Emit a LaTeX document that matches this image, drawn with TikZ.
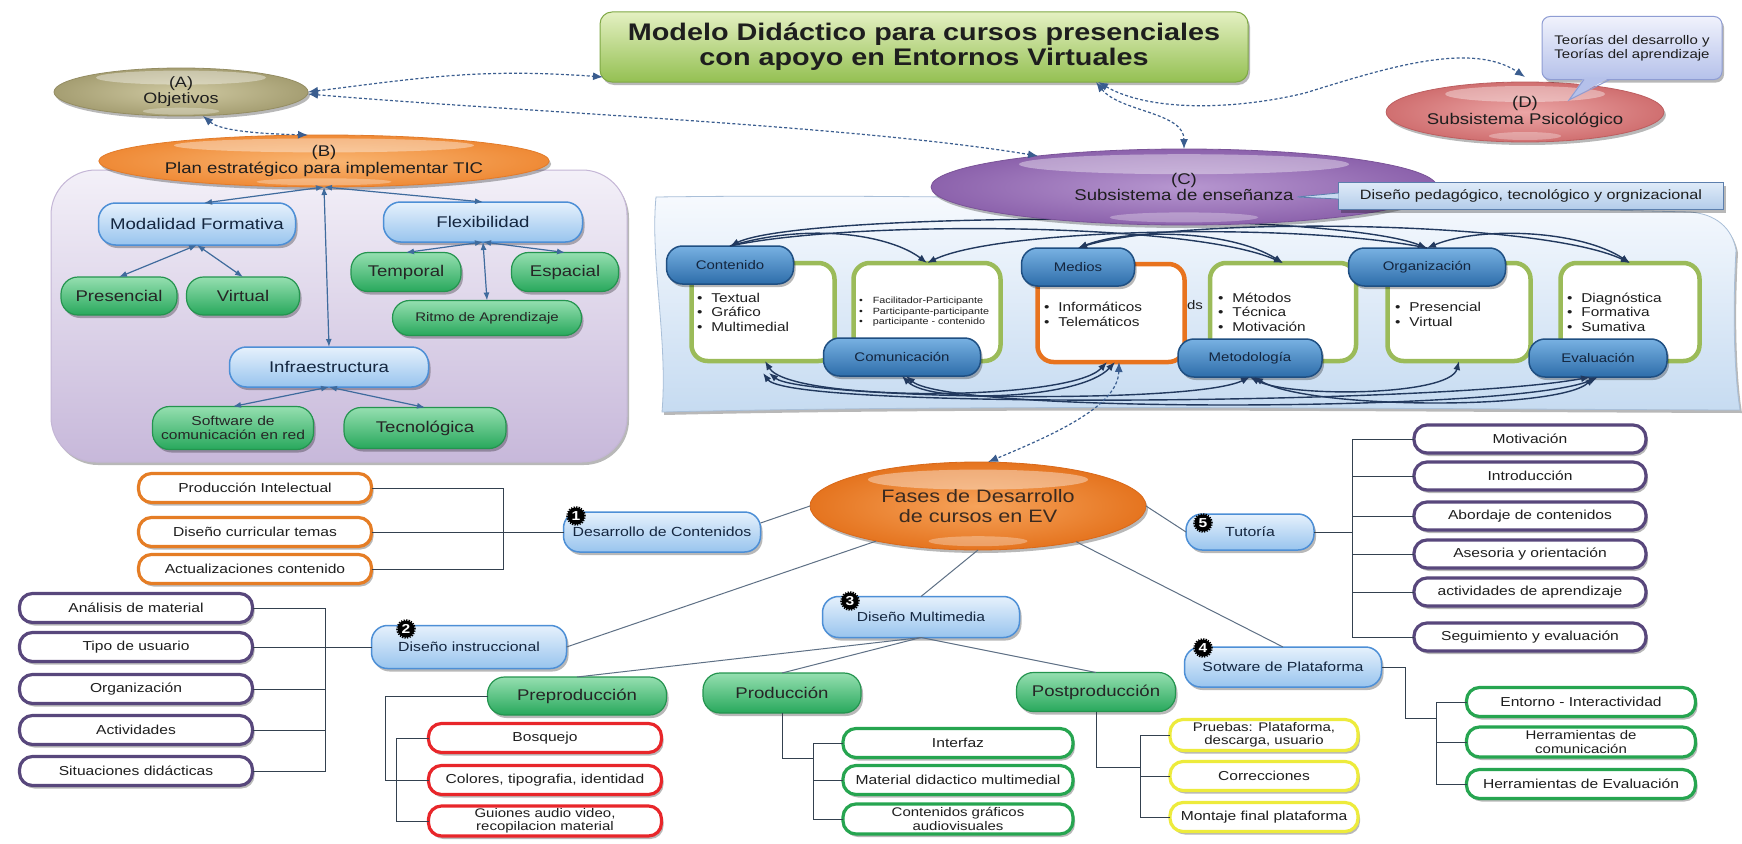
\documentclass[tikz,border=0pt]{standalone}
\usepackage{fontspec}
\setmainfont{Liberation Sans}[FakeStretch=1.2]
\usetikzlibrary{shapes.geometric,shapes.misc,arrows.meta,shadows,calc}

\definecolor{txt}{HTML}{1E1E1E}
\definecolor{navy}{HTML}{14263F}
\definecolor{dashc}{HTML}{3A5D8F}
\definecolor{arrB}{HTML}{3F6B9D}
\definecolor{arrC}{HTML}{22395E}
\definecolor{lineF}{HTML}{5E7085}
\definecolor{brkc}{HTML}{34414F}
\definecolor{pbTop}{HTML}{F3F0F8}
\definecolor{pbBot}{HTML}{C7B8DA}
\definecolor{pbDraw}{HTML}{C4B6D6}
\definecolor{bandTop}{HTML}{F7FAFE}
\definecolor{bandBot}{HTML}{C6DBF1}
\definecolor{bandDraw}{HTML}{A9BFD8}
\definecolor{cgreen}{HTML}{9BBB59}
\definecolor{corange}{HTML}{E8731E}
\definecolor{bp1}{HTML}{78B1E2}
\definecolor{bp2}{HTML}{2D6DAA}
\definecolor{bpd}{HTML}{1F4F82}
\definecolor{lb1}{HTML}{E6F1FC}
\definecolor{lb2}{HTML}{98C4EE}
\definecolor{lbd}{HTML}{4D8FD6}
\definecolor{g1}{HTML}{95DFB0}
\definecolor{g2}{HTML}{28A85C}
\definecolor{gd}{HTML}{24944F}
\definecolor{tTop}{HTML}{E4F0C2}
\definecolor{tBot}{HTML}{94C052}
\definecolor{tDraw}{HTML}{7FA845}
\definecolor{aIn}{HTML}{CFC9A2}
\definecolor{aOut}{HTML}{A59E72}
\definecolor{aDraw}{HTML}{948D63}
\definecolor{bIn}{HTML}{F9B673}
\definecolor{bOut}{HTML}{EF8A36}
\definecolor{bDraw}{HTML}{E27B2A}
\definecolor{cIn}{HTML}{B797D0}
\definecolor{cOut}{HTML}{8C62AC}
\definecolor{cDraw}{HTML}{7A5398}
\definecolor{dIn}{HTML}{EBA5A5}
\definecolor{dOut}{HTML}{D06F70}
\definecolor{dDraw}{HTML}{BC5E60}
\definecolor{fIn}{HTML}{F6A35A}
\definecolor{fOut}{HTML}{E5741F}
\definecolor{fDraw}{HTML}{D9691A}
\definecolor{fText}{HTML}{3A2A20}
\definecolor{thTop}{HTML}{F0F2FC}
\definecolor{thBot}{HTML}{B5C1EA}
\definecolor{thDraw}{HTML}{8F9DD3}
\definecolor{dbTop}{HTML}{DFEBF8}
\definecolor{dbBot}{HTML}{B3CCEA}
\definecolor{dbDraw}{HTML}{5C7FAD}
\definecolor{oOrange}{HTML}{E57D25}
\definecolor{oPurple}{HTML}{58477C}
\definecolor{oRed}{HTML}{E8262A}
\definecolor{oGreen}{HTML}{26A550}
\definecolor{oYellow}{HTML}{EDEB3C}

\newcommand\fsz[2]{\fontsize{#1}{#2}\selectfont}

\tikzset{
  dshadow/.style={drop shadow={shadow xshift=2pt, shadow yshift=-3pt, opacity=.28, fill=black}},
  gloss/.style 2 args={path picture={
    \fill[white,opacity=.38] ($(path picture bounding box.north)!.2!(path picture bounding box.south)$) ellipse [x radius=#1, y radius=#2];
    \fill[white,opacity=.3] ($(path picture bounding box.north)!.9!(path picture bounding box.south)$) ellipse [x radius=.45*#1, y radius=.5*#2];
  }},
  ellnode/.style n args={3}{ellipse, inner color=#1, outer color=#2, draw=#3, line width=.8pt, dshadow, align=center},
  lbpill/.style={rectangle, rounded corners=17pt, top color=lb1, bottom color=lb2, draw=lbd, line width=1.5pt, dshadow, text=navy},
  gpill/.style={rectangle, rounded corners=17pt, top color=g1, bottom color=g2, draw=gd, line width=1.2pt, dshadow, text=black!85},
  bpill/.style={rectangle, rounded corners=16pt, top color=bp1, bottom color=bp2, draw=bpd, line width=1.5pt, minimum height=38pt, font=\fsz{12.5}{14}, text=navy, dshadow},
  ppill/.style={rectangle, rounded corners=16pt, top color=lb1, bottom color=lb2, draw=lbd, line width=1.5pt, minimum height=40pt, font=\fsz{13.2}{15}, text=navy, dshadow},
  opill/.style={rectangle, rounded corners=13pt, fill=white, draw=#1, line width=3.2pt, minimum width=233pt, minimum height=29pt, font=\fsz{13}{14}, align=center, dshadow},
  cardn/.style={rectangle, rounded corners=16pt, fill=white, draw=#1, line width=4.5pt, minimum height=98pt},
  cardtxt/.style={anchor=west, align=left, font=\fsz{12.8}{14.5}},
  badge/.style={circle, fill=black, draw=black, line width=2.6pt, dash pattern=on 1.2pt off 1.2pt, minimum size=17pt, text=white, font=\fsz{13}{13}\bfseries},
  barrow/.style={draw=arrB, line width=1.2pt, {Latex[length=8pt,width=6pt]}-{Latex[length=8pt,width=6pt]}},
  barrone/.style={draw=arrC, line width=1.4pt, -{Latex[length=9pt,width=7pt]}},
  barrtwo/.style={draw=arrC, line width=1.4pt, {Latex[length=9pt,width=7pt]}-{Latex[length=9pt,width=7pt]}},
  dconn/.style={draw=dashc, line width=1.2pt, dash pattern=on 3pt off 2.2pt, {Latex[length=10pt,width=8pt]}-{Latex[length=10pt,width=8pt]}},
  flin/.style={draw=lineF, line width=1pt},
  brk/.style={draw=brkc, line width=1pt},
}

\begin{document}
\begin{tikzpicture}[x=1pt,y=-1pt, every node/.style={inner sep=0pt,outer sep=0pt,text=txt}]
\useasboundingbox (0,0) rectangle (1742,843);
\fill[white] (0,0) rectangle (1742,843);

% ---------- (B) panel ----------
\node[rectangle, rounded corners=45pt, top color=pbTop, bottom color=pbBot, draw=pbDraw, line width=1pt, dshadow, minimum width=576pt, minimum height=292pt] (panel) at (339,316) {};

% ---------- (C) band ----------
\path[top color=bandTop, bottom color=bandBot, draw=bandDraw, line width=.8pt, dshadow]
  (656,197) .. controls (950,193) and (1350,204) .. (1690,212)
  .. controls (1716,214) and (1732,228) .. (1736,250)
  .. controls (1732,320) and (1735,380) .. (1740,410)
  .. controls (1400,409) and (1000,404) .. (662,412)
  .. controls (668,340) and (650,260) .. (656,197) -- cycle;

\node[cardn=cgreen, minimum width=143pt] (cCont) at (763,312) {};
\node[cardn=cgreen, minimum width=147pt] (cComu) at (927,312) {};
\node[cardn=corange, minimum width=147pt] (cMed)  at (1111,313) {};
\node[cardn=cgreen, minimum width=146pt] (cMet)  at (1283,312) {};
\node[cardn=cgreen, minimum width=143pt] (cOrg)  at (1459,312) {};
\node[cardn=cgreen, minimum width=139pt] (cEva)  at (1630,312) {};

\node[cardtxt] (tCont) at (697,312) {\textbullet\hspace{9pt}Textual\\\textbullet\hspace{9pt}Gráfico\\\textbullet\hspace{9pt}Multimedial};
\node[cardtxt, font=\fsz{9}{10.5}] (tComu) at (859,312) {\textbullet\hspace{10pt}Facilitador-Participante\\\textbullet\hspace{10pt}Participante-participante\\\textbullet\hspace{10pt}participante - contenido};
\node[cardtxt, font=\fsz{12.8}{15}] (tMed) at (1044,314) {\textbullet\hspace{9pt}Informáticos\\\textbullet\hspace{9pt}Telemáticos};
\node[cardtxt] (tMet) at (1218,312) {\textbullet\hspace{9pt}Métodos\\\textbullet\hspace{9pt}Técnica\\\textbullet\hspace{9pt}Motivación};
\node[cardtxt, font=\fsz{12.8}{15}] (tOrg) at (1395,314) {\textbullet\hspace{9pt}Presencial\\\textbullet\hspace{9pt}Virtual};
\node[cardtxt] (tEva) at (1567,312) {\textbullet\hspace{9pt}Diagnóstica\\\textbullet\hspace{9pt}Formativa\\\textbullet\hspace{9pt}Sumativa};
\node[font=\fsz{12.5}{14}] (ds) at (1195,305) {ds};

\node[bpill, minimum width=127pt] (Cont) at (730,265) {Contenido};
\node[bpill, minimum width=157pt] (Comu) at (902,357) {Comunicación};
\node[bpill, minimum width=113pt] (Med)  at (1078,267) {Medios};
\node[bpill, minimum width=144pt] (Met)  at (1250,358) {Metodología};
\node[bpill, minimum width=157pt] (Org)  at (1427,267) {Organización};
\node[bpill, minimum width=138pt] (Eva)  at (1598,358) {Evaluación};

% relations between the six components
\draw[barrtwo] (Cont.north) .. controls (800,212) and (1330,210) .. (Org.north);
\draw[barrone] (Cont.north) .. controls (810,222) and (890,235) .. (cComu.north);
\draw[barrone] (Org.north) .. controls (1300,222) and (1000,228) .. (cComu.north);
\draw[barrtwo] (Med.north) .. controls (1180,216) and (1540,220) .. (cEva.north);
\draw[barrtwo] (Med.north) .. controls (1130,228) and (1230,230) .. (cMet.north);
\draw[barrone] (Cont.north) .. controls (850,220) and (1190,222) .. (cMet.north);
\draw[barrtwo] (Org.north) .. controls (1480,226) and (1580,230) .. (cEva.north);
\draw[barrtwo] ([xshift=2pt]cCont.south) .. controls (790,402) and (1070,402) .. ([xshift=-4pt]cMed.south);
\draw[barrtwo] ([xshift=6pt,yshift=-12pt]cCont.south) .. controls (800,398) and (1190,406) .. (Met.south);
\draw[barrtwo] (Comu.south) .. controls (930,404) and (1080,400) .. ([xshift=4pt]cMed.south);
\draw[barrtwo] ([xshift=4pt]Comu.south) .. controls (950,414) and (1520,412) .. (Eva.south);
\draw[barrtwo] (Met.south) .. controls (1290,398) and (1450,396) .. (cOrg.south);
\draw[barrtwo] ([xshift=4pt]Met.south) .. controls (1310,410) and (1560,410) .. ([xshift=-4pt]Eva.south);
\draw[barrtwo] ([yshift=-12pt]cCont.south) .. controls (790,410) and (1450,404) .. ([xshift=-8pt]Eva.south);

% ---------- ellipses and title ----------
\node[ellnode={cIn}{cOut}{cDraw}, gloss={165}{10}, minimum width=506pt, minimum height=76pt, font=\fsz{15.5}{16}] (C) at (1184,187) {(C)\\Subsistema de enseñanza};

\node[rectangle, top color=dbTop, bottom color=dbBot, draw=dbDraw, line width=1pt, minimum width=385pt, minimum height=27pt, font=\fsz{13.5}{15}, dshadow] (Dbox) at (1531,196) {Diseño pedagógico, tecnológico y orgnizacional};
\coordinate (dtip) at (1297,197);
\filldraw[fill=dbTop!50!dbBot, draw=dbDraw, line width=.8pt] ([yshift=3pt]Dbox.west) -- (dtip) -- ([yshift=-3pt]Dbox.west);

\node[rectangle, rounded corners=12pt, top color=tTop, bottom color=tBot, draw=tDraw, line width=1pt, minimum width=648pt, minimum height=70pt, align=center, font=\fsz{24}{25}\bfseries, dshadow] (title) at (924,47) {Modelo Didáctico para cursos presenciales\\con apoyo en Entornos Virtuales};

\node[ellnode={aIn}{aOut}{aDraw}, gloss={85}{7}, minimum width=254pt, minimum height=48pt, font=\fsz{15}{16}] (A) at (181,92) {(A)\\Objetivos};
\node[ellnode={bIn}{bOut}{bDraw}, gloss={150}{7}, minimum width=438pt, minimum height=52pt, font=\fsz{15.5}{17}] (B) at (324,161) {(B)\\Plan estratégico para implementar TIC};
\node[ellnode={dIn}{dOut}{dDraw}, gloss={80}{8}, minimum width=240pt, minimum height=60pt, font=\fsz{15.5}{17}] (D) at (1525,112) {(D)\\Subsistema Psicológico};

\node[rectangle, rounded corners=8pt, top color=thTop, bottom color=thBot, draw=thDraw, line width=1pt, minimum width=180pt, minimum height=63pt, align=center, font=\fsz{12.5}{13.5}, dshadow] (Th) at (1632,48) {Teorías del desarrollo y\\Teorías del aprendizaje};
\coordinate (ttip) at (1569,100);
\fill[thBot] ([xshift=-48pt,yshift=2pt]Th.south) -- (ttip) -- ([xshift=-22pt,yshift=2pt]Th.south) -- cycle;
\draw[thDraw, line width=1pt] ([xshift=-48pt]Th.south) -- (ttip) -- ([xshift=-22pt]Th.south);

% ---------- inside (B) ----------
\node[lbpill, minimum width=197pt, minimum height=42pt, font=\fsz{15.5}{17}] (Mod) at (197,224) {Modalidad Formativa};
\node[lbpill, minimum width=199pt, minimum height=40pt, font=\fsz{15.5}{17}] (Flex) at (483,222) {Flexibilidad};
\node[gpill, minimum width=116pt, minimum height=38pt, font=\fsz{15.5}{17}] (Pres) at (119,296) {Presencial};
\node[gpill, minimum width=113pt, minimum height=38pt, font=\fsz{15.5}{17}] (Virt) at (243,296) {Virtual};
\node[gpill, minimum width=110pt, minimum height=39pt, font=\fsz{15.5}{17}] (Temp) at (406,272) {Temporal};
\node[gpill, minimum width=107pt, minimum height=39pt, font=\fsz{15.5}{17}] (Esp) at (565,272) {Espacial};
\node[gpill, minimum width=189pt, minimum height=35pt, font=\fsz{12.5}{14}] (Ritmo) at (487,318) {Ritmo de Aprendizaje};
\node[lbpill, minimum width=199pt, minimum height=40pt, font=\fsz{15.5}{17}] (Inf) at (329,367) {Infraestructura};
\node[gpill, minimum width=161pt, minimum height=43pt, align=center, font=\fsz{13}{14}] (Soft) at (233,428) {Software de\\comunicación en red};
\node[gpill, minimum width=162pt, minimum height=41pt, font=\fsz{15.5}{17}] (Tec) at (425,428) {Tecnológica};

\draw[barrow] (B.south) -- ([xshift=7pt]Mod.north);
\draw[barrow] (B.south) -- (Flex.north);
\draw[barrow] (B.south) -- (Inf.north);
\draw[barrow] (Mod.south) -- (Pres.north);
\draw[barrow] (Mod.south) -- (Virt.north);
\draw[barrow] (Flex.south) -- (Temp.north);
\draw[barrow] (Flex.south) -- (Esp.north);
\draw[barrow] (Flex.south) -- (Ritmo.north);
\draw[barrow] (Inf.south) -- (Soft.north);
\draw[barrow] (Inf.south) -- (Tec.north);

% ---------- phases of development ----------
\node[ellnode={fIn}{fOut}{fDraw}, gloss={110}{10}, minimum width=336pt, minimum height=88pt, font=\fsz{18}{20}, text=fText] (F) at (978,506) {Fases de Desarrollo\\de cursos en EV};

\node[ppill, minimum width=197pt] (P1) at (662,532) {Desarrollo de Contenidos};
\node[ppill, minimum width=195pt, minimum height=43pt] (P2) at (469,647) {Diseño instruccional};
\node[ppill, minimum width=197pt, minimum height=41pt, font=\fsz{13}{15}] (P3) at (921,617) {Diseño Multimedia};
\node[ppill, minimum width=197pt] (P4) at (1283,667) {Sotware de Plataforma};
\node[ppill, minimum width=128pt, minimum height=36pt] (P5) at (1250,532) {Tutoría};

\draw[flin] ([yshift=9pt]P1.east) -- (F.west);
\draw[flin] (P2.east) -- (F.199);
\draw[flin] (F.south) -- (P3.north);
\draw[flin] (F.-20) -- (P4.north);
\draw[flin] (F.east) -- (P5.west);

\node[gpill, minimum width=179pt, minimum height=38pt, font=\fsz{15.5}{17}] (Pre) at (577,696) {Preproducción};
\node[gpill, minimum width=158pt, minimum height=40pt, font=\fsz{15.5}{17}] (Pro) at (782,693) {Producción};
\node[gpill, minimum width=159pt, minimum height=39pt, font=\fsz{15.5}{17}] (Post) at (1096,692) {Postproducción};
\draw[flin] (P3.south) -- (Pre.north);
\draw[flin] (P3.south) -- (Pro.north);
\draw[flin] (P3.south) -- (Post.north);

% content development items
\node[opill=oOrange] (o1) at (255,488) {Producción Intelectual};
\node[opill=oOrange] (o2) at (255,532) {Diseño curricular temas};
\node[opill=oOrange] (o3) at (255,569) {Actualizaciones contenido};
% instructional design items
\node[opill=oPurple] (q1) at (136,608) {Análisis de material};
\node[opill=oPurple] (q2) at (136,647) {Tipo de usuario};
\node[opill=oPurple] (q3) at (136,689) {Organización};
\node[opill=oPurple] (q4) at (136,730) {Actividades};
\node[opill=oPurple] (q5) at (136,771) {Situaciones didácticas};
% preproduction items
\node[opill=oRed] (r1) at (545,738) {Bosquejo};
\node[opill=oRed] (r2) at (545,780) {Colores, tipografia, identidad};
\node[opill=oRed, font=\fsz{12.5}{13.5}, minimum height=30pt] (r3) at (545,821) {Guiones audio video,\\recopilacion material};
% production items
\node[opill=oGreen, minimum width=230pt] (m1) at (958,743) {Interfaz};
\node[opill=oGreen, minimum width=230pt] (m2) at (958,780) {Material didactico multimedial};
\node[opill=oGreen, minimum width=230pt, font=\fsz{12.5}{13.5}, minimum height=30pt] (m3) at (958,819) {Contenidos gráficos\\audiovisuales};
% postproduction items
\node[opill=oYellow, minimum width=188pt, font=\fsz{12.5}{13.5}, minimum height=31pt] (y1) at (1264,735) {Pruebas: Plataforma,\\descarga, usuario};
\node[opill=oYellow, minimum width=188pt] (y2) at (1264,776) {Correcciones};
\node[opill=oYellow, minimum width=188pt] (y3) at (1264,817) {Montaje final plataforma};
% tutoring items
\node[opill=oPurple, minimum width=232pt, minimum height=28pt] (t1) at (1530,439) {Motivación};
\node[opill=oPurple, minimum width=232pt, minimum height=28pt] (t2) at (1530,476) {Introducción};
\node[opill=oPurple, minimum width=232pt, minimum height=28pt] (t3) at (1530,516) {Abordaje de contenidos};
\node[opill=oPurple, minimum width=232pt, minimum height=28pt] (t4) at (1530,554) {Asesoria y orientación};
\node[opill=oPurple, minimum width=232pt, minimum height=28pt] (t5) at (1530,592) {actividades de aprendizaje};
\node[opill=oPurple, minimum width=232pt, minimum height=28pt] (t6) at (1530,637) {Seguimiento y evaluación};
% platform items
\node[opill=oGreen, minimum width=229pt] (e1) at (1581,702) {Entorno - Interactividad};
\node[opill=oGreen, minimum width=229pt, font=\fsz{12.5}{13.5}, minimum height=30pt] (e2) at (1581,742) {Herramientas de\\comunicación};
\node[opill=oGreen, minimum width=229pt] (e3) at (1581,784) {Herramientas de Evaluación};

% brackets
\coordinate (b1) at (503,532);
\draw[brk] (o1.east) -| (b1);
\draw[brk] (o3.east) -| (b1);
\draw[brk] (o2.east) -- (P1.west);

\coordinate (b2) at (325,647);
\draw[brk] (q1.east) -| (b2);
\draw[brk] (q5.east) -| (b2);
\draw[brk] (q2.east) -- (P2.west);
\draw[brk] (q3.east) -- (q3.east -| b2);
\draw[brk] (q4.east) -- (q4.east -| b2);

\coordinate (b3) at (385,780);
\coordinate (b3r) at (396,780);
\draw[brk] (Pre.west) -| (b3) -- (b3r);
\draw[brk] (r1.west) -| (b3r);
\draw[brk] (r3.west) -| (b3r);
\draw[brk] (r2.west) -- (b3r);

\coordinate (b4) at (813,758);
\draw[brk] (Pro.south) |- (b4);
\draw[brk] (m1.west) -| (b4);
\draw[brk] (m3.west) -| (b4);
\draw[brk] (m2.west) -- (m2.west -| b4);

\coordinate (b5) at (1140,767);
\draw[brk] (Post.south) |- (b5);
\draw[brk] (y1.west) -| (b5);
\draw[brk] (y3.west) -| (b5);
\draw[brk] (y2.west) -- (y2.west -| b5);

\coordinate (b6) at (1352,532);
\draw[brk] (P5.east) -- (b6);
\draw[brk] (t1.west) -| (b6);
\draw[brk] (t6.west) -| (b6);
\draw[brk] (t2.west) -- (t2.west -| b6);
\draw[brk] (t3.west) -- (t3.west -| b6);
\draw[brk] (t4.west) -- (t4.west -| b6);
\draw[brk] (t5.west) -- (t5.west -| b6);

\coordinate (b7) at (1405,718);
\coordinate (b7r) at (1436,718);
\draw[brk] (P4.east) -| (b7) -- (b7r);
\draw[brk] (e1.west) -| (b7r);
\draw[brk] (e3.west) -| (b7r);
\draw[brk] (e2.west) -- (e2.west -| b7r);

% numbered badges
\node[badge] (k1) at (576,516) {1};
\node[badge] (k2) at (406,629) {2};
\node[badge] (k3) at (850,601) {3};
\node[badge] (k4) at (1203,648) {4};
\node[badge] (k5) at (1203,523) {5};

% ---------- dashed links between the subsystems ----------
\draw[dconn] (A.east) .. controls (420,78) and (480,68) .. ([xshift=3pt,yshift=5pt]title.south west);
\draw[dconn] ([yshift=-2pt]A.east) .. controls (520,112) and (850,125) .. (C.168);
\draw[dconn] ([xshift=22pt]A.south) .. controls (222,132) and (270,134) .. ([xshift=-16pt]B.north);
\draw[dconn] ([xshift=172pt]title.south) .. controls (1120,112) and (1184,112) .. (C.north);
\draw[dconn] ([xshift=174pt]title.south) .. controls (1150,112) and (1235,110) .. (1305,93) .. controls (1380,70) and (1470,40) .. ([yshift=5pt]D.north);
\draw[dconn] ([xshift=8pt]cMed.south) .. controls (1118,405) and (1060,432) .. ([xshift=10pt]F.north);
\end{tikzpicture}
\end{document}
